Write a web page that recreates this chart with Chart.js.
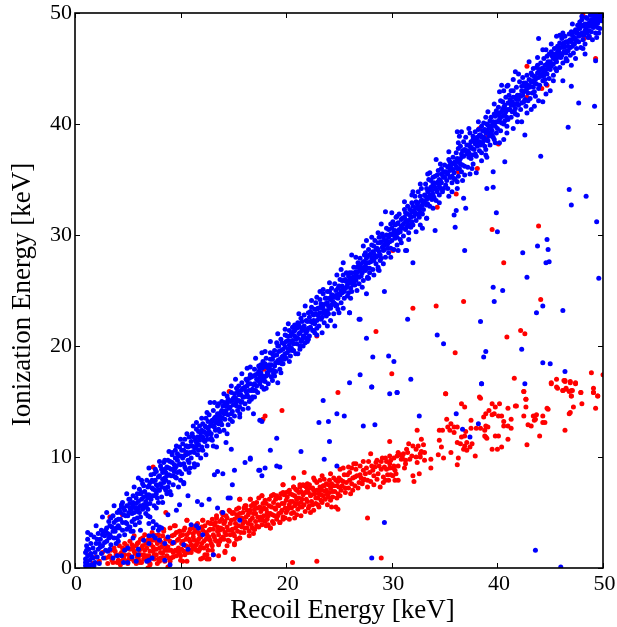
<!DOCTYPE html>
<html><head><meta charset="utf-8">
<script src="https://cdn.jsdelivr.net/npm/chart.js@4"></script>
<style>html,body{margin:0;padding:0;background:#fff}#w{position:absolute;left:0;top:0;width:617px;height:627px}</style>
</head><body><div id="w"><canvas id="c"></canvas></div>
<script>
const xTicks=[0,10,20,30,40,50];
const yTicks=[0,10,20,30,40,50];
const xTitle="Recoil Energy [keV]";
const yTitle="Ionization Energy [keV]";
// flat x,y pairs
const blueBand=[
1.0,0.2,1.0,0.8,1.0,1.4,1.1,2.0,1.1,0.4,1.2,1.1,1.2,2.6,1.3,0.1,1.3,1.7,1.4,0.7,1.5,1.3,1.5,2.2,1.6,0.3,1.7,0.9,1.7,1.8,1.8,2.8,1.9,0.5,1.9,1.4,1.0,0.5,1.2,0.3,1.4,0.2,1.1,1.6,1.6,1.0,1.8,0.2,
2.0,2.2,2.1,1.0,2.2,3.1,2.2,1.7,2.3,0.4,2.4,2.6,2.5,1.3,2.5,3.4,2.6,2.0,2.7,0.9,2.8,2.9,2.9,1.6,2.3,2.2,2.7,3.2,
3.0,3.6,3.0,2.4,3.1,1.5,3.2,4.2,3.3,3.0,3.4,2.1,3.5,3.7,3.6,4.7,3.7,2.7,3.8,3.3,3.9,4.3,3.9,2.2,3.2,2.7,3.4,4.5,
4.0,5.0,4.1,3.8,4.2,2.9,4.3,4.4,4.4,5.5,4.5,3.4,4.6,4.8,4.7,3.0,4.8,4.1,4.9,5.6,4.9,3.5,4.2,5.2,4.5,5.9,4.7,5.2,
5.0,4.7,5.1,6.2,5.2,3.7,5.3,5.3,5.4,4.2,5.5,6.5,5.6,5.0,5.7,3.9,5.8,5.8,5.9,4.5,5.9,6.7,5.2,5.8,5.5,5.6,
6.0,5.4,6.1,7.1,6.2,4.6,6.3,6.2,6.4,7.6,6.5,5.7,6.6,6.9,6.7,4.9,6.8,7.9,6.9,6.3,6.9,5.3,6.2,6.7,6.5,7.4,6.7,6.0,
7.0,7.4,7.1,5.8,7.2,8.4,7.3,6.5,7.4,7.8,7.5,5.6,7.6,7.0,7.7,8.7,7.8,6.3,7.9,8.2,7.9,5.9,7.3,7.2,7.5,8.5,7.7,7.5,
8.0,7.0,8.1,9.2,8.2,6.4,8.3,8.0,8.4,9.5,8.5,7.2,8.6,8.6,8.7,6.7,8.8,9.7,8.9,7.7,8.9,9.0,8.2,8.9,8.5,8.1,8.7,9.1,
9.0,6.9,9.1,8.3,9.2,10.2,9.3,7.5,9.4,9.3,9.5,10.6,9.6,8.1,9.7,9.7,9.8,7.3,9.9,10.9,9.9,8.7,9.3,8.9,9.5,9.0,9.7,10.3,
10.0,10.1,10.1,8.5,10.2,11.2,10.3,9.4,10.4,11.6,10.5,8.9,10.6,10.4,10.7,9.7,10.8,11.8,10.9,9.0,10.9,11.0,10.3,10.6,10.5,11.0,10.7,10.9,
11.0,9.9,11.1,12.1,11.2,10.5,11.3,9.4,11.4,11.5,11.5,12.5,11.6,10.2,11.7,11.1,11.8,12.8,11.9,9.9,11.9,11.9,11.3,10.9,11.5,11.0,11.7,12.3,
12.0,10.9,12.1,13.0,12.2,11.5,12.3,12.2,12.4,13.5,12.5,11.0,12.6,12.6,12.7,13.8,12.8,11.6,12.9,13.1,12.9,12.1,12.3,12.8,12.5,12.0,12.7,12.3,
13.0,11.5,13.1,14.2,13.2,12.7,13.3,13.6,13.4,11.9,13.5,14.6,13.6,13.0,13.7,12.3,13.8,14.0,13.9,15.0,13.9,12.9,13.3,13.1,13.5,13.5,13.7,13.3,
14.0,13.5,14.1,12.4,14.2,14.9,14.3,13.9,14.4,15.5,14.5,12.9,14.6,14.4,14.7,13.4,14.8,15.8,14.9,14.1,14.9,13.2,14.3,14.6,14.5,15.2,14.7,15.0,
15.0,15.3,15.1,13.7,15.2,14.8,15.3,16.2,15.4,14.2,15.5,15.6,15.6,13.9,15.7,14.9,15.8,16.7,15.9,15.4,15.9,14.3,15.3,15.0,15.5,16.4,15.7,16.0,
16.0,16.1,16.1,14.8,16.2,17.0,16.3,15.6,16.4,16.6,16.5,15.0,16.6,17.4,16.7,16.0,16.8,15.4,16.9,17.3,16.9,16.5,16.3,16.4,16.5,17.1,16.7,15.2,
17.0,17.9,17.1,16.0,17.2,17.0,17.3,15.8,17.4,18.2,17.5,16.6,17.6,17.6,17.7,16.3,17.8,18.6,17.9,17.1,17.9,16.1,17.3,17.5,17.5,18.0,17.7,18.0,
18.0,16.8,18.1,18.9,18.2,17.6,18.3,16.6,18.4,18.3,18.5,19.4,18.6,17.2,18.7,18.8,18.8,17.5,18.9,19.6,18.9,18.2,18.3,18.0,18.5,17.9,18.7,19.3,
19.0,17.7,19.1,20.3,19.2,18.7,19.3,19.5,19.4,17.9,19.5,20.6,19.6,19.0,19.7,18.4,19.8,20.2,19.9,21.0,19.9,19.3,19.3,20.0,19.5,18.5,19.7,19.7,
20.0,18.9,20.1,20.9,20.2,19.7,20.3,21.4,20.4,19.1,20.5,20.4,20.6,21.7,20.7,19.6,20.8,20.9,20.9,19.3,20.9,21.8,20.3,20.1,20.5,21.1,20.7,21.3,
21.0,20.2,21.1,22.1,21.2,21.1,21.3,20.0,21.4,22.5,21.5,20.6,21.6,21.6,21.7,22.8,21.8,20.3,21.9,21.2,21.9,22.3,21.3,21.7,21.5,22.2,21.7,20.9,
22.0,21.4,22.1,23.0,22.2,20.9,22.3,22.2,22.4,23.5,22.5,21.4,22.6,22.8,22.7,21.2,22.8,23.9,22.9,22.3,22.9,21.6,22.3,23.1,22.5,22.1,22.7,23.3,
23.0,22.8,23.1,21.8,23.2,24.2,23.3,22.4,23.4,23.4,23.5,24.7,23.6,22.1,23.7,23.8,23.8,22.7,23.9,24.9,23.9,23.2,23.3,23.8,23.5,23.0,23.7,24.3,
24.0,22.9,24.1,24.3,24.2,23.4,24.3,25.2,24.4,24.0,24.5,22.9,24.6,25.6,24.7,24.4,24.8,23.7,24.9,25.2,24.9,23.3,24.3,24.6,24.5,23.9,24.7,25.0,
25.0,24.7,25.1,26.0,25.2,23.9,25.3,25.4,25.4,26.4,25.5,24.3,25.6,25.2,25.7,26.6,25.8,24.5,25.9,25.9,25.9,24.8,25.3,24.8,25.5,25.9,25.7,25.8,
26.0,26.6,26.1,25.2,26.2,24.9,26.3,26.2,26.4,27.1,26.5,25.5,26.6,26.7,26.7,25.0,26.8,27.5,26.9,26.2,26.9,25.6,26.3,25.9,26.5,26.6,26.7,27.1,
27.0,27.9,27.1,26.3,27.2,27.0,27.3,25.9,27.4,28.2,27.5,26.8,27.6,27.5,27.7,26.2,27.8,28.7,27.9,27.0,27.9,26.6,27.3,27.6,27.5,28.4,27.7,28.1,
28.0,27.6,28.1,29.1,28.2,26.9,28.3,28.3,28.4,29.5,28.5,27.4,28.6,28.8,28.7,27.1,28.8,29.8,28.9,28.2,28.9,27.7,28.3,29.0,28.5,28.0,28.7,29.3,
29.0,27.9,29.1,30.1,29.2,28.6,29.3,29.5,29.4,28.0,29.5,30.6,29.6,29.2,29.7,28.4,29.8,30.0,29.9,31.0,29.9,28.8,29.3,29.1,29.5,30.0,29.7,30.5,
30.0,29.5,30.1,31.2,30.2,28.7,30.3,30.4,30.4,31.6,30.5,29.1,30.6,30.2,30.7,31.9,30.8,29.6,30.9,30.8,30.9,29.3,30.3,30.9,30.5,31.0,30.7,30.5,
31.0,31.5,31.1,29.9,31.2,32.3,31.3,30.5,31.4,31.3,31.5,32.6,31.6,30.2,31.7,31.8,31.8,30.7,31.9,32.9,31.9,31.2,31.3,32.0,31.5,31.0,31.7,32.3,
32.0,30.9,32.1,32.2,32.2,33.5,32.3,31.3,32.4,32.8,32.5,33.9,32.6,31.6,32.7,32.5,32.8,34.2,32.9,31.9,32.9,33.1,32.3,33.0,32.5,32.4,32.7,33.5,
33.0,32.3,33.1,33.6,33.2,34.6,33.3,32.7,33.4,33.9,33.5,35.0,33.6,32.6,33.7,34.3,33.8,33.2,33.9,35.2,33.9,34.6,33.3,34.2,33.5,33.4,33.7,34.9,
34.0,33.4,34.1,35.3,34.2,33.1,34.3,34.7,34.4,35.8,34.5,33.6,34.6,34.9,34.7,36.0,34.8,33.9,34.9,35.2,34.9,34.2,34.3,35.4,34.5,34.4,34.7,35.5,
35.0,36.3,35.1,34.5,35.2,35.6,35.3,34.2,35.4,36.8,35.5,35.2,35.6,36.1,35.7,34.7,35.8,37.0,35.9,35.6,35.9,36.5,35.3,36.1,35.5,36.6,35.7,35.3,
36.0,35.0,36.1,37.4,36.2,36.0,36.3,35.3,36.4,36.7,36.5,38.0,36.6,35.7,36.7,37.1,36.8,38.4,36.9,36.2,36.9,35.4,36.3,37.8,36.5,36.4,36.7,37.6,
37.0,38.8,37.1,37.3,37.2,36.1,37.3,38.1,37.4,39.2,37.5,36.9,37.6,37.8,37.7,36.4,37.8,38.5,37.9,39.3,37.9,37.3,37.3,37.0,37.5,38.4,37.7,38.9,
38.0,37.1,38.1,38.8,38.2,39.5,38.3,37.6,38.4,39.0,38.5,37.4,38.6,38.3,38.7,40.1,38.8,38.0,38.9,39.2,38.9,37.7,38.3,38.4,38.5,39.8,38.7,38.8,
39.0,40.0,39.1,38.5,39.2,39.6,39.3,38.1,39.4,40.6,39.5,39.0,39.6,40.2,39.7,38.6,39.8,39.8,39.9,41.2,39.9,39.2,39.3,39.2,39.5,39.9,39.7,40.9,
40.0,39.6,40.1,41.5,40.2,40.4,40.3,39.4,40.4,41.1,40.5,42.0,40.6,40.0,40.7,40.8,40.8,42.4,40.9,41.3,40.9,39.8,40.3,42.1,40.5,40.7,40.7,41.7,
41.0,40.4,41.1,42.6,41.2,41.3,41.3,40.6,41.4,42.0,41.5,43.0,41.6,41.1,41.7,42.4,41.8,43.3,41.9,40.8,41.9,41.8,41.3,43.0,41.5,41.7,41.7,40.9,
42.0,42.2,42.1,43.8,42.2,41.3,42.3,43.0,42.4,44.2,42.5,42.0,42.6,43.4,42.7,41.6,42.8,44.4,42.9,42.8,42.9,42.1,42.3,41.9,42.5,43.7,42.7,43.0,
43.0,43.3,43.1,42.3,43.2,44.6,43.3,42.8,43.4,45.0,43.5,43.7,43.6,42.5,43.7,44.2,43.8,45.3,43.9,43.2,43.9,44.7,43.3,43.9,43.5,42.9,43.7,45.1,
44.0,43.5,44.1,45.5,44.2,44.3,44.3,43.9,44.4,45.9,44.5,44.8,44.6,43.6,44.7,46.1,44.8,45.0,44.9,44.1,44.9,46.3,44.3,45.0,44.5,44.0,44.7,45.4,
45.0,44.9,45.1,46.5,45.2,45.4,45.3,44.4,45.4,46.8,45.5,45.8,45.6,44.8,45.7,47.0,45.8,46.2,45.9,45.1,45.9,47.3,45.3,45.9,45.5,45.0,45.7,46.5,
46.0,46.0,46.1,47.7,46.2,45.5,46.3,46.9,46.4,47.9,46.5,46.4,46.6,45.7,46.7,47.4,46.8,48.1,46.9,46.2,46.9,46.9,46.3,47.3,46.5,45.9,46.7,46.6,
47.0,48.3,47.1,47.0,47.2,46.4,47.3,47.8,47.4,48.5,47.5,46.8,47.6,48.9,47.7,47.4,47.8,49.2,47.9,46.9,47.9,48.0,47.3,47.2,47.5,48.2,47.7,48.6,
48.0,49.4,48.1,47.6,48.2,48.8,48.3,47.2,48.4,49.6,48.5,48.2,48.6,47.8,48.7,49.1,48.8,49.8,48.9,48.3,48.9,49.4,48.3,48.4,48.5,49.0,48.7,47.9,
49.0,49.8,49.1,48.7,49.2,49.5,49.3,48.2,49.4,49.8,49.5,49.1,49.6,49.7,49.7,48.6,49.8,49.8,49.9,49.3,49.2,49.9,49.5,49.9,49.0,49.1,49.3,49.0,49.7,49.9];
const blueFill=[
2.1,2.6,2.4,1.9,2.6,3.0,2.8,2.3,2.9,3.4,3.1,3.1,3.3,3.8,3.4,2.8,3.6,3.3,3.7,4.1,3.9,3.6,4.1,4.4,4.2,3.6,4.3,5.0,4.5,4.1,4.6,5.4,4.8,4.7,4.9,4.0,
5.1,5.0,5.2,5.4,5.4,4.9,5.5,5.9,5.6,4.4,5.7,5.4,5.8,6.3,5.9,5.1,6.0,6.0,6.1,5.0,6.2,5.6,6.3,6.8,6.4,5.3,6.5,6.4,6.6,5.5,6.8,6.6,6.9,7.3,6.8,5.7,
7.0,6.6,7.1,7.7,7.2,6.2,7.3,7.9,7.4,7.1,7.5,6.5,7.6,7.9,7.7,6.7,7.8,7.4,7.9,7.0,8.0,8.3,8.1,7.6,8.2,7.3,8.3,8.6,8.4,7.7,8.5,8.9,8.6,7.9,8.7,8.3,8.8,7.3,8.9,8.4,
9.0,9.6,9.1,8.9,9.2,9.5,9.3,8.3,9.4,8.7,9.5,9.9,9.6,9.2,9.7,8.6,9.8,10.1,9.9,9.4,10.0,9.3,10.1,10.6,10.2,9.9,10.3,10.1,10.4,9.1,10.5,10.2,10.6,11.0,10.7,10.3,10.8,9.5,10.9,10.4,
11.0,11.4,11.1,11.0,11.2,11.8,11.3,10.4,11.4,10.8,11.5,11.3,11.6,11.8,11.7,10.6,11.8,11.5,11.9,12.2,12.0,12.4,12.1,11.8,12.2,12.3,12.3,11.4,12.4,12.7,12.5,11.6,12.6,13.2,12.7,12.1,12.8,12.8,12.9,11.7,
13.0,13.3,13.1,12.8,13.2,13.5,13.3,12.4,13.4,13.1,13.5,13.9,13.6,12.5,13.7,13.7,13.8,13.1,13.9,14.2,14.0,14.6,14.1,13.9,14.2,13.4,14.3,14.2,14.4,14.8,14.5,13.8,14.6,15.1,14.7,14.5,14.8,13.9,14.9,15.1,
15.0,14.7,15.1,15.7,15.2,15.3,15.3,14.6,15.4,15.9,15.5,15.1,15.6,14.5,15.7,15.6,15.8,15.0,15.9,16.2,16.0,15.4,16.1,16.3,16.2,15.9,16.3,16.9,16.4,15.4,16.5,16.0,16.6,16.6,16.7,17.2,16.8,16.1,16.9,16.0,
17.0,16.6,17.1,17.4,17.2,16.4,17.3,16.9,17.4,17.7,17.5,17.2,17.6,18.3,17.7,16.9,17.8,17.3,17.9,18.1,18.0,18.4,18.1,17.3,18.2,18.2,18.3,17.4,18.4,17.8,18.5,18.8,18.6,18.3,18.7,17.8,18.8,19.1,18.9,17.3,
19.0,18.5,19.1,19.2,19.2,20.0,19.3,18.5,19.4,18.8,19.5,19.6,19.6,20.3,19.7,19.1,19.8,18.8,19.9,19.9,20.0,20.4,20.1,19.4,20.2,20.5,20.3,19.6,20.4,20.9,20.5,19.8,20.6,20.5,20.7,20.2,20.8,21.4,20.9,20.6,
21.0,21.6,21.1,20.7,21.2,21.9,21.3,21.2,21.4,20.4,21.5,21.4,21.6,20.9,21.7,21.8,21.8,21.4,21.9,20.7,22.0,22.2,22.1,21.6,22.2,22.6,22.3,21.7,22.4,22.2,22.5,22.9,22.6,22.3,22.7,22.0,22.8,22.9,22.9,23.3,
23.0,23.4,23.1,22.6,23.2,23.0,23.3,23.6,23.4,22.6,23.5,23.6,23.6,23.2,23.7,22.9,23.8,24.3,23.9,23.9,24.0,23.6,24.1,24.9,24.2,24.2,24.3,23.7,24.4,24.6,24.5,24.4,24.6,23.8,24.7,23.6,24.8,24.6,24.9,24.3,
25.0,25.4,25.1,24.6,25.2,25.0,25.3,25.9,25.4,25.2,25.5,24.9,25.6,26.0,25.7,25.3,25.8,25.5,25.9,26.3,26.0,25.7,26.1,26.1,26.2,26.6,26.3,25.5,26.4,25.8,26.5,26.2,26.6,25.9,26.7,26.3,26.8,26.7,26.9,27.2,
27.0,26.9,27.1,27.4,27.2,26.6,27.3,27.0,27.4,27.6,27.5,27.2,27.6,27.9,27.7,27.0,27.8,27.5,27.9,28.2,28.0,28.3,28.1,27.9,28.2,28.5,28.3,27.7,28.4,28.1,28.5,28.7,28.6,28.1,28.7,28.7,28.8,28.5,28.9,29.3,
29.0,29.4,29.1,28.9,29.2,29.8,29.3,28.7,29.4,29.2,29.5,29.5,29.6,28.8,29.7,29.8,29.8,29.4,29.9,30.1,30.0,30.6,30.1,30.0,30.2,30.3,30.3,29.7,30.4,30.1,30.5,29.8,30.6,31.1,30.7,30.3,30.8,30.3,30.9,31.4,
31.0,30.6,31.1,31.0,31.2,31.6,31.3,31.2,31.4,30.7,31.5,31.9,31.6,31.3,31.7,30.9,31.8,31.6,31.9,32.1,32.0,32.6,32.1,31.7,32.2,32.0,32.3,32.4,32.4,31.9,32.5,32.9,32.6,32.3,32.7,32.0,32.8,33.1,32.9,32.7,
33.0,33.0,33.1,32.9,33.2,33.5,33.3,33.2,33.4,32.8,33.5,34.0,33.6,33.6,33.7,33.3,33.8,34.0,33.9,33.7,34.0,34.7,34.1,34.3,34.2,34.1,34.3,33.9,34.4,34.8,34.5,35.0,34.6,34.2,34.7,34.7,34.8,35.4,34.9,35.7,
35.0,35.2,35.1,35.7,35.2,34.9,35.3,35.5,35.4,36.2,35.5,35.8,35.6,35.2,35.7,36.4,35.8,35.9,35.9,35.1,36.0,36.6,36.1,36.2,36.2,36.9,36.3,36.6,36.4,36.0,36.5,36.9,36.6,37.3,36.7,36.3,36.8,37.1,36.9,37.7,
37.0,37.6,37.1,38.1,37.2,37.6,37.3,37.4,37.4,38.0,37.5,37.9,37.6,37.2,37.7,38.6,37.8,37.7,37.9,38.2,38.0,38.6,38.1,38.0,38.2,38.4,38.3,39.0,38.4,38.1,38.5,38.8,38.6,39.4,38.7,38.5,38.8,39.5,38.9,38.6,
39.0,39.4,39.1,39.9,39.2,38.9,39.3,40.3,39.4,39.6,39.5,39.4,39.6,38.8,39.7,40.1,39.8,40.7,39.9,40.2,40.0,40.8,40.1,40.2,40.2,41.0,40.3,40.6,40.4,40.1,40.5,41.3,40.6,41.5,40.7,40.3,40.8,41.1,40.9,40.6,
41.0,41.9,41.1,41.3,41.2,42.2,41.3,41.7,41.4,41.1,41.5,42.4,41.6,41.8,41.7,41.4,41.8,42.2,41.9,42.6,42.0,41.7,42.1,42.6,42.2,42.5,42.3,43.4,42.4,42.6,42.5,42.9,42.6,42.2,42.7,43.7,42.8,43.2,42.9,43.5,
43.0,44.0,43.1,43.4,43.2,43.8,43.3,44.4,43.4,43.3,43.5,44.3,43.6,44.0,43.7,43.6,43.8,44.6,43.9,44.2,44.0,44.9,44.1,44.4,44.2,45.0,44.3,44.6,44.4,44.4,44.5,45.3,44.6,44.9,44.7,44.5,44.8,45.6,44.9,45.3,
45.0,45.6,45.1,45.2,45.2,46.1,45.3,45.4,45.4,46.3,45.5,46.2,45.6,45.6,45.7,46.0,45.8,46.7,45.9,46.4,46.0,46.9,46.1,46.2,46.2,47.2,46.3,46.5,46.4,47.0,46.5,47.4,46.6,46.6,46.7,47.0,46.8,47.5,46.9,47.6,
47.0,47.4,47.1,48.0,47.2,47.7,47.3,48.3,47.4,47.6,47.5,47.5,47.6,48.2,47.7,47.9,47.8,48.6,47.9,48.8,48.0,48.2,48.1,48.9,48.2,48.0,48.3,49.0,48.4,48.6,48.5,49.5,48.6,48.8,48.7,48.4,48.8,49.2,48.9,48.8,
49.0,49.4,49.1,49.2,49.2,48.9,49.3,49.6,49.4,49.4,49.5,48.7,49.6,49.3,49.7,49.6,49.8,49.4,49.9,49.7];
const blueEdge=[
36.2,39.3,36.6,39.3,36.4,38.9,36.3,38.3,34.2,36.8,33.4,35.5,32,33.9,40.2,42.9,40.4,43.5,40.9,43.4,40.6,43,41.5,44,41.7,44.7,39.1,41.1,44.3,46.7,44.6,46.7,45.9,48,45.6,47.9,46.2,48.2,48,49.7,41.5,39.6,42.3,40.2,44.3,42,43.2,41.3,43.5,41.6,46.2,43.9,44.6,42.7,45,43,48.3,46.3,47.4,45.9,46.5,45.7,40.6,38.6,40.2,38.3,39,37,38.5,36.7,38,35.6,37.4,35.5,36.2,34.8,36.2,34.2,35.7,33.9,
29.4,32.1,30.5,31.7,29,31,28.1,29.8,27.6,29.5,26.2,28.2,25.4,27.5,24.8,26.4,24.1,25.7,23.5,25.1,22.9,24.4,21.8,23.6,20.8,21.9,19.9,21.5,18.5,20.4,18,19.5,16.6,18.1,15.8,17.5,
32.3,30.3,31.6,29.6,31.3,28.6,28.7,26.9,27.8,26.1,25,23,26,23,26.9,22.4,24.6,21.8,23.9,21.8,23.4,21.2,22.6,21.4,22.1,20.6,21.6,20,21.3,19.7,20.6,19.6,19.6,18.4,18.8,17.8,
7,9,6.3,7.9,5.2,6.2,4.4,5.7,8.5,9.7,9.2,10.4,9.6,11,10.6,12.1,11.2,12.8,12.5,14,12.8,14.9,13.6,14.8,8.6,7,9.5,8.2,10.3,7.7,12.1,10.6,13.1,11,14.3,11.3,14.8,10.7,14.4,12.1,16.9,13.9,17.5,13.3,
15.2,17,16.3,18.0,17.1,18.9,17.7,19.4,19.2,21.1,20.2,22.0,21.2,22.9,22.4,24.1,23.2,24.9,25.2,26.9,26.6,28.0,27.3,29.0,28.7,30.2,30.0,32.0,31.2,33.0,31.9,33.6,32.7,34.6,33.6,35.6,34.6,36.4,35.4,37.5,37.3,39.6,38.2,40.2,38.9,40.6,39.7,41.8,41.0,43.5,42.0,44.5,43.0,45.6,43.8,46.0,45.1,47.2,46.2,47.9,47.1,49.0,
15.6,13.6,16.4,14.4,17.0,15.4,18.1,16.2,18.7,16.9,19.5,17.6,20.3,18.6,21.1,19.3,22.0,20.4,22.9,21.0,24.2,22.3,25.4,23.4,26.1,24.3,27.2,25.3,28.3,26.4,29.2,27.4,29.9,28.0,30.6,28.6,32.7,30.9,33.3,31.5,33.9,32.4,34.5,32.9,35.4,33.5,36.7,34.9,37.6,36.0,38.9,37.2,39.8,38.3,40.9,39.2,41.9,40.2,42.8,41.0,43.9,42.1,45.3,43.9,47.0,45.3,48.1,46.8,49.0,47.6,49.6,48.2,
1.5,3.0,1.2,3.2,2.0,3.8,2.6,4.6,3.0,5.0,3.7,5.6,5.6,7.3,4.9,6.7,6.0,8.1,7.6,8.9,8.0,9.6,8.9,10.5,10.0,11.6,11.5,13.1,12.0,13.5,13.2,14.9,14.1,15.7,14.8,16.4,5.5,3.3,6.1,4.1,6.9,4.7,7.7,5.4,8.3,5.9,9.1,6.6,10.0,7.9,10.8,8.6,11.6,9.3,12.4,10.2,13.4,10.9];
const blueScatter=[
46,0.1,43.6,1.6,28.1,0.9,29.3,4.1,24.8,9.2,23.6,9.8,24.1,11.4,21.4,10.5,19.1,11.7,18.5,10.6,19.1,9.2,19.4,9.1,18,9,17.5,8.8,17.7,8.3,16.6,9.8,17.7,13.2,23.1,13.1,24,13.2,24.8,13.9,25.5,13.7,27.3,12.8,28.4,12.9,32.6,13.7,36.1,13.9,38.2,13,37.4,11.8,36.7,12.5,23.5,15.1,29.8,15.7,30.5,15.8,28.1,16.3,26,16.7,19.2,16.7,38.5,16.6,42.6,16.6,
47,32.7,49.4,31.2,39.9,32,37,32.4,36.1,32.2,35.9,31.8,36,30.7,34.1,30.4,40,30.3,44.7,29.6,43.8,29,44.8,28.7,42.4,28.4,36.9,28.6,44.9,27.6,44.6,27.5,32,27.5,42.8,26.2,49.6,26.1,39.6,25.3,40.5,25,39.7,24,44.3,23.6,43.7,23,46.2,23.2,38.4,22.2,31.5,22.4,27,22.4,26,23,34.3,21,27.6,20.7,34.9,20.2,42.3,19.7,38.9,19.5,38.7,19,29.7,19.1,28.2,19,30.2,18.6,44.3,18.5,45,18.4,46.4,17.7,27,17.4,31.8,17,38.5,16.6,28.1,16.3,30.5,15.8,29.3,24.9,27.6,24.7,28.8,26.8,27.7,26.1,31.4,28.6,32.9,30.6,33.3,31.5,
43.9,47.7,49.4,47.8,49.3,45.7,47,43.4,47.7,41.9,49.2,41.6,46.7,39.7,42.6,39,44.1,37.1,40.7,36.6,39.6,35.7,39,34.2,39.6,34.3,46.8,34.1,48.4,33.5,36.8,33.3,
16.6,9.9,16.1,9.5,17.4,8.8,15.1,8.8,14,8.5,13.5,8.7,13.2,8.4,14.9,7.5,11.3,9.1,10.3,7.6,10.7,6.5,12.7,6.2,11.6,6,12,5.7,14.5,6.3,14.7,6.3,13.5,5.4,14,5,15.6,4.3,9.9,5.7,9.6,5.2,8.8,4.8,7.1,4.6,7.4,4.2,7,4,7.7,3.9,8,3.7,7.4,3.6,6.2,3.4,7.9,3.4,8.2,3.6,11,3.9,11.5,3.8,11.7,3.6,12.1,3,8.8,2.8,7,2.9,7.4,2.9,6.5,2.5,7.6,2.7,8,2.5,7,2.2,8.5,2.2,9.3,2.3,10.3,2.1,10.7,1.7,13.1,1.2,5,1.8,6,1.7,4.7,1.6,6,1.2,4.4,1.1,4,1.1,3.6,0.9,3.3,1.7,5.4,1,7,0.7,7.3,0.9,5.8,0.6,6.8,0.6,8.5,0.7,9,0.3,5,0.5,4.6,0.5,4,2.7,5.1,3.7,5.3,3.3,5.5,2.7,4.1,2.4];
const redMain=[
1.1,0.6,1.4,1.2,1.7,0.4,2.0,1.0,2.3,0.6,2.6,1.4,2.9,0.9,3.1,0.4,3.4,1.6,3.3,1.1,3.6,0.5,3.7,1.8,3.9,1.2,4.1,0.7,4.2,2.0,4.3,0.3,4.4,1.4,4.6,0.9,4.7,2.2,4.8,1.7,5.0,0.4,5.1,1.2,5.2,2.4,5.4,0.8,5.5,1.8,5.6,2.9,5.7,1.3,5.8,0.4,5.9,2.2,
6.0,0.9,6.1,1.6,6.2,2.6,6.3,0.5,6.4,2.0,6.5,1.2,6.6,3.0,6.7,0.8,6.8,1.8,6.9,2.5,7.0,1.1,7.1,0.4,7.2,2.1,7.3,3.2,7.4,1.5,7.5,0.8,7.6,2.5,7.7,1.2,7.8,0.4,7.9,3.0,8.0,1.8,8.1,0.9,8.2,2.3,8.3,1.3,8.4,3.3,8.5,0.6,8.6,2.0,8.7,1.1,8.8,2.7,8.9,1.6,9.0,3.6,
9.1,0.9,9.2,2.2,9.3,1.4,9.4,3.0,9.5,3.8,9.6,1.1,9.7,2.5,9.8,1.8,9.9,3.3,10.0,1.1,10.0,0.7,10.1,2.2,10.2,3.0,10.3,1.5,10.4,3.6,10.5,2.6,10.6,0.6,10.6,4.3,10.7,1.9,10.8,3.2,10.9,2.4,11.0,1.4,11.1,3.6,11.2,2.8,11.3,2.0,11.4,3.3,11.5,1.6,11.6,4.0,11.7,2.6,11.8,3.0,11.9,1.9,12.0,3.7,12.1,4.3,12.2,2.4,12.3,1.2,12.4,3.2,12.5,0.8,12.5,2.0,12.6,4.1,12.7,2.8,12.8,3.5,12.9,2.2,
13.0,4.4,13.1,3.0,13.2,3.9,13.3,2.5,13.4,4.7,13.5,3.3,13.6,1.1,13.6,2.1,13.7,2.4,13.7,4.2,13.8,3.6,13.9,5.0,14.0,2.8,14.1,4.0,14.2,1.4,14.2,3.2,14.3,4.7,14.4,3.7,14.5,2.5,14.6,5.2,14.7,3.0,14.8,4.3,14.9,3.5,15.0,0.8,15.0,5.0,15.1,2.1,15.1,2.9,15.2,4.0,15.3,4.8,15.4,3.3,15.5,5.4,15.6,2.7,15.6,6.2,15.7,4.4,15.8,3.7,15.9,5.0,
16.0,3.2,16.1,4.2,16.2,5.6,16.3,3.6,16.4,4.8,16.5,2.9,16.6,6.2,16.6,5.2,16.7,3.9,16.8,4.5,16.9,5.8,17.0,3.5,17.1,4.9,17.2,3.8,17.3,5.4,17.4,6.3,17.5,4.3,17.6,5.1,17.7,3.9,17.8,5.8,17.9,4.7,18.0,6.1,18.1,5.3,18.2,4.4,18.3,3.9,18.4,5.6,18.5,3.6,18.6,6.5,18.7,4.8,18.8,4.0,18.9,5.4,19.0,6.2,19.1,4.4,19.2,5.7,19.3,4.9,19.4,4.1,19.5,6.7,19.6,5.2,19.7,7.5,19.8,5.8,19.9,4.5,
20.0,5.0,20.1,6.4,20.2,5.4,20.3,7.0,20.4,6.0,20.5,4.9,20.6,6.6,20.7,8.1,20.8,4.5,20.8,5.6,20.9,7.1,21.0,6.2,21.1,5.3,21.2,6.8,21.3,7.3,21.4,5.9,21.5,5.5,21.6,6.6,21.7,8.6,21.7,7.4,21.8,5.1,21.9,6.2,22.0,7.0,22.1,5.4,22.2,7.5,22.3,6.5,22.4,6.0,22.5,7.2,22.6,5.2,22.7,6.7,22.8,5.8,22.9,7.7,23.0,6.3,23.1,7.0,23.2,7.9,23.3,6.6,23.4,5.9,23.5,7.4,23.6,8.0,23.7,6.9,23.8,7.6,23.9,5.7,24.0,6.4,24.1,7.9,24.2,7.2,24.3,5.5,24.4,6.9,24.5,8.1,24.7,5.5,24.8,7.4,24.9,5.3,24.9,6.7,
25.0,8.1,25.2,7.0,25.4,9.0,25.4,7.8,25.6,7.2,25.8,8.4,26.0,7.9,26.1,6.7,26.2,9.0,26.3,8.1,26.4,9.4,26.5,7.4,26.7,8.3,26.9,7.7,27.0,8.4,27.2,7.6,27.3,8.8,27.4,8.0,27.6,9.0,27.7,7.3,27.7,7.9,27.9,8.6,28.0,10.3,28.1,9.2,28.3,7.5,28.3,8.3,28.5,9.5,28.6,9.7,28.7,8.5,28.9,7.3,29,8.9,29.1,9.9,29.2,8.2,29.4,7.9,29.4,9.9,29.5,8.9,29.7,7.9,29.8,10.1,29.8,9.4,29.8,9,29.9,8.4,30.1,8.3,30.2,9.2,30.3,7.9,30.3,8.8,30.6,7.9,29.8,11.4];
const redFill=[
3.2,1.0,3.5,0.7,3.8,1.5,4.0,0.5,4.2,1.2,4.4,0.6,4.5,1.8,4.7,1.2,4.9,0.6,4.9,2.0,5.1,0.8,5.2,1.7,5.3,1.0,5.4,2.1,5.6,0.6,5.6,1.5,5.8,2.0,5.9,1.0,6.0,2.3,6.1,0.6,6.2,1.2,6.3,1.8,6.4,2.7,6.5,0.8,6.6,1.6,6.7,2.2,6.8,1.1,6.9,0.6,7.0,2.8,7.1,1.5,7.2,0.9,7.3,2.5,7.4,1.9,7.5,1.2,7.6,2.9,7.7,1.7,7.8,2.2,7.9,0.8,8.0,2.6,8.1,1.4,8.2,1.9,8.3,2.9,8.4,0.9,8.5,1.6,8.6,2.6,8.7,1.6,8.8,1.9,8.9,0.9,9.0,2.4,
9.1,1.6,9.2,2.9,9.3,1.0,9.4,2.3,9.5,1.6,9.6,3.2,9.7,1.5,9.8,2.6,9.9,1.3,10.0,2.9,10.1,1.7,10.2,2.4,10.3,3.4,10.4,1.2,10.5,2.0,10.6,3.0,10.7,1.4,10.8,2.6,10.9,3.5,11.0,2.1,11.1,1.7,11.2,3.1,11.3,2.5,11.4,1.7,11.5,3.6,11.6,2.3,11.7,3.2,11.8,1.7,11.9,2.8,12.0,2.2,12.1,3.4,12.2,1.8,12.3,3.8,12.4,2.6,12.5,3.0,12.6,1.6,12.7,3.4,12.8,2.5,12.9,4.0,
13.0,2.0,13.1,3.5,13.2,2.8,13.3,4.1,13.4,2.4,13.5,3.7,13.6,3.0,13.7,3.4,13.8,2.6,13.9,4.4,14.0,3.5,14.1,2.6,14.2,4.2,14.3,3.0,14.4,4.5,14.5,3.4,14.6,2.4,14.7,4.0,14.8,3.4,14.9,4.9,15.0,3.1,15.1,4.4,15.2,3.6,15.3,2.6,15.4,4.6,15.5,3.8,15.6,4.9,15.7,3.2,15.8,4.5,15.9,4.0,
16.0,5.4,16.1,3.6,16.2,4.6,16.3,5.2,16.4,4.0,16.5,5.0,16.6,4.3,16.7,5.6,16.8,3.6,16.9,4.9,17.0,5.3,17.1,4.2,17.2,5.9,17.3,4.6,17.4,3.7,17.5,5.5,17.6,4.6,17.7,5.3,17.8,4.3,17.9,5.4,18.0,4.2,18.1,5.8,18.2,5.0,18.3,4.7,18.4,6.2,18.5,4.9,18.6,5.5,18.7,4.2,18.8,5.9,18.9,4.7,19.0,5.3,19.1,6.5,19.2,4.7,19.3,5.6,19.4,6.3,19.5,5.0,19.6,5.8,19.7,4.6,19.8,6.6,19.9,5.4,
20.0,6.1,20.1,5.2,20.2,6.9,20.3,5.7,20.4,6.7,20.5,5.4,20.6,6.0,20.7,5.0,20.8,6.5,20.9,5.8,21.0,7.0,21.1,5.8,21.2,6.3,21.3,5.5,21.4,6.9,21.5,6.2,21.6,7.5,21.7,5.7,21.8,6.8,21.9,7.3,22.0,6.0,22.1,6.8,22.2,5.6,22.3,7.2,22.4,6.6,22.5,5.7,22.6,7.0,22.7,7.9,22.8,6.3,22.9,7.0,23.0,5.7,23.1,6.7,23.2,7.3,23.3,6.1,23.4,7.0,23.5,6.5,23.6,7.4,23.7,6.2,23.8,7.0,23.9,6.6,24.0,7.5,24.1,6.8,24.2,6.1,24.3,7.6,24.4,6.4,24.5,7.4,24.6,6.9,24.7,7.9,24.8,6.3,24.9,7.8,
25.0,7.3,25.1,6.5,25.2,7.9,25.3,7.4,25.5,8.4,25.6,6.8,25.7,7.7,25.9,7.2,26.0,8.6,26.2,7.6,26.3,7.0,26.5,8.2,26.6,8.9,26.8,7.2,27.0,9.2,27.1,8.1,27.3,7.9,27.5,8.5,27.8,9.6,28.0,7.8,28.2,8.8,28.4,9.1,28.6,8.0,28.8,9.2,29.0,9.6,29.2,7.7,29.3,9.1,29.5,9.6,29.6,8.4,29.9,9.7,30.1,9.0,30.2,9.9,30.4,8.5,30.6,9.2,30.9,9.8,31.1,10.3,31.3,9.4,31.9,10.1,32.3,10.7,32.4,9.5];
const redEdge=[
19.7,7.5,20.7,7.3,17.7,6.5,16.6,6.2,15.6,6.2,14.7,5.1,13.4,4.5,12.1,4.3,10.6,4.3,9.4,3.8,8.4,3.5,7.6,2.9,18.8,6.6,20,6.8,19.1,6.3,21,6.3,17,5.7,16.1,5.6,15.3,5.3,14,4.8,12.8,4,11.4,3.8,9.9,3.3,
21,4.8,19.7,4.4,19.4,4.1,18.5,3.6,17,3.5,16.5,3.3,15.6,2.7,15.1,2.2,13.7,2.4,14.2,1.5,13.1,1.2,12.5,1.2,12.7,0.8,11.9,0.8,11.7,1.5,15,0.8,11.5,2.1,10.2,0.6,9.8,1.5,9,0.6,8,0.6,7.1,0.3,8.8,0.1,6.9,0,6.1,0.5,
22,7.6,21.3,7.5,20.7,7.3,19.7,6.8,18.8,6.6,17.7,6.5,22.6,8.1,23.4,8.3,24.2,8.5,25.1,8.9,25.9,9.1,26.6,9.4,27.3,9.6,23.1,5.5,22.3,5.0,21.4,4.7,20.3,4.4,18.1,3.8,16.9,3.1,14.4,2.0,13.0,1.6,12.1,0.9];
const redUpper=[
49.5,15.5,49.1,16.2,49.1,15.8,49.3,14.4,48,14.8,47.9,15.8,47.2,14.5,46.9,14,46.8,13.9,46.4,12.4,47,15.5,47,16,46.2,16,46.5,16.1,45.6,16.3,45.1,16.6,47.4,16.6,46.9,16.7,46.4,16.8,44.8,14.3,44.7,14.4,44.3,13.7,44.3,13.1,44.5,13.1,44,11.9,43.7,13.8,43.4,13.7,43.6,13.4,43.5,13.3,43.2,12.8,42.9,12.9,42.8,11.1,42.5,13.7,42.7,14.5,42.7,15.2,42.5,15.9,41.8,14.6,41.7,14.6,41,14.4,41.3,13.4,41.3,12.6,41,12.8,40.6,12.8,40.6,13.2,40.4,13.7,40.1,13.7,39.7,13.9,39.5,13.8,40.2,14.8,39.8,14.5,39.5,14.8,39.2,14.2,38.9,13.9,38.7,13.6,38.3,15.4,38.9,12.8,39.1,12.7,38.8,12.4,38.4,12.6,38,12.6,37.5,13.3,37.5,12.6,36.9,14.5,36.6,14.8,35.1,15.7,35.2,13.4,35.6,13,35.3,12.7,35.9,12.7,36.2,12.7,35.5,12.4,35.9,12.2,34.8,12.4,34.5,12.4,32.4,12.4,34.5,11.5,34.7,10.9,34.4,10.2,34.9,9.9,35.6,10.4,36.3,9.9,36.2,9.3,37.9,10.1,36.2,11.3,36.6,11.8,36.5,11.2,36.9,11,36.8,10.7,37.1,10.6,37.4,10.9,37.6,11.2,37.1,11.3,37,12.3,36.9,11.9,38.9,11.8,38.8,11.9,39.8,11.9,40.1,11.9,39.5,10.7,40,10.7,40.4,10.9,41,11.6,39,11.7,
33.7,9,33.7,9.8,33.1,10.4,32.8,10.5,32.7,10.3,33,11.1,32.8,11.6,32.5,11,32,11,31.6,11.2,31.4,10.7,30.6,10.4,30.5,10.1,30.8,10.2,33.1,9.7,32.7,10,32.3,10,31.7,9.8,31.2,9,32,8.3,32.6,8.5,32.1,7.8,31,10,31.3,9.7,31.5,10.4];
const redScatter=[
27.7,4.5,29,0.9,22.9,0.6,20.6,0.5,19.6,14.2,24.9,15.8,18,13.7,17.8,13.4,
43.9,30.8,39.5,30.5,40.6,27.5,44.1,24.2,36.8,24,34.2,23.6,32,23.4,28.5,21.3,42.2,21.4,42.6,21.1,40.9,20.8,36,19.4,30,17.5,41.6,17.1,48.9,17.6,50,17.4,45.1,16.7,45.6,17,46.3,16.9,46.4,16.9,46.9,16.8,47.4,16.7,45.7,16.2,46.5,16.2,46.2,16,46.8,15.9,47.1,16,47.9,15.8,49.1,15.8,49.5,15.5,47,15.5,35.1,15.7,38.4,15.3,42.5,15.9,42.7,15.2,
42.8,45.2,49.3,45.9,38.1,36,36.1,33.7,38.3,39.6,40.1,38.2,48.1,49.8,48.7,47.8,48.2,47.7,44.2,43.2,44.7,43.5,42.8,42.4,39,38.8,34.3,32.5,7.4,9.1,3.3,4.6,8.6,5,22.9,20.9,17.9,17.9,14.6,15.9,10.5,10.4,4.5,4.8,30.1,28.6,26.4,25.6,36.3,35.7];

const pairs=a=>{const o=[];for(let i=0;i<a.length;i+=2)o.push({x:a[i],y:a[i+1]});return o;};
const blue=pairs(blueBand.concat(blueFill,blueEdge,blueScatter));
const red=pairs(redMain.concat(redFill,redEdge,redUpper,redScatter));

const frame={id:'frame',afterDatasetsDraw(ch){
  const {ctx,chartArea:a,scales:{x,y}}=ch;
  ctx.save();ctx.strokeStyle='#000';ctx.lineWidth=1;
  ctx.beginPath();
  xTicks.forEach(v=>{const p=Math.round(x.getPixelForValue(v))+.5;ctx.moveTo(p,a.bottom);ctx.lineTo(p,a.bottom-5);ctx.moveTo(p,a.top);ctx.lineTo(p,a.top+5);});
  yTicks.forEach(v=>{const p=Math.round(y.getPixelForValue(v))+.5;ctx.moveTo(a.left,p);ctx.lineTo(a.left+5,p);ctx.moveTo(a.right,p);ctx.lineTo(a.right-5,p);});
  ctx.stroke();
  ctx.lineWidth=1.6;ctx.strokeRect(a.left,a.top,a.right-a.left,a.bottom-a.top);
  ctx.restore();
}};
// fix the axis boxes and nudge the library's title by the small offset seen in the reference
function fitAxis(s,size,dx,dy){
  if(s.isHorizontal())s.height=size;else s.width=size;
  s.paddingLeft=s.paddingRight=s.paddingTop=s.paddingBottom=0;
  if(!s._nudged){const d=s.drawTitle;s.drawTitle=function(){const c=this.ctx;c.save();c.translate(dx,dy);d.apply(this,arguments);c.restore();};s._nudged=true;}
}
const F='"Liberation Serif","Times New Roman",serif';
new Chart(document.getElementById('c'),{
  type:'scatter',
  data:{datasets:[
    {label:'blue',data:blue,backgroundColor:'#0000ff',borderWidth:0,pointRadius:2.5,order:1,clip:0},
    {label:'red',data:red,backgroundColor:'#ff0000',borderWidth:0,pointRadius:2.5,order:2,clip:0}
  ]},
  options:{
    responsive:true,maintainAspectRatio:false,animation:false,devicePixelRatio:1,
    layout:{padding:{top:13,right:14,left:0,bottom:0}},
    plugins:{legend:{display:false},tooltip:{enabled:false},title:{display:false}},
    scales:{
      x:{type:'linear',min:0,max:50,afterFit(s){fitAxis(s,59,3.5,0);},
        afterBuildTicks(s){s.ticks=xTicks.map(v=>({value:v}));},
        grid:{display:false,drawTicks:false},border:{display:false},
        ticks:{color:'#000',font:{family:F,size:22},padding:3,maxRotation:0,labelOffset:1.5},
        title:{display:true,text:xTitle,color:'#000',font:{family:F,size:27},padding:{top:0,bottom:0}}},
      y:{type:'linear',min:0,max:50,afterFit(s){fitAxis(s,75,0,4);},
        afterBuildTicks(s){s.ticks=yTicks.map(v=>({value:v}));},
        grid:{display:false,drawTicks:false},border:{display:false},
        ticks:{color:'#000',font:{family:F,size:22},padding:3},
        title:{display:true,text:yTitle,color:'#000',font:{family:F,size:27},padding:{top:7,bottom:0}}}
    }
  },
  plugins:[frame]
});
</script></body></html>
